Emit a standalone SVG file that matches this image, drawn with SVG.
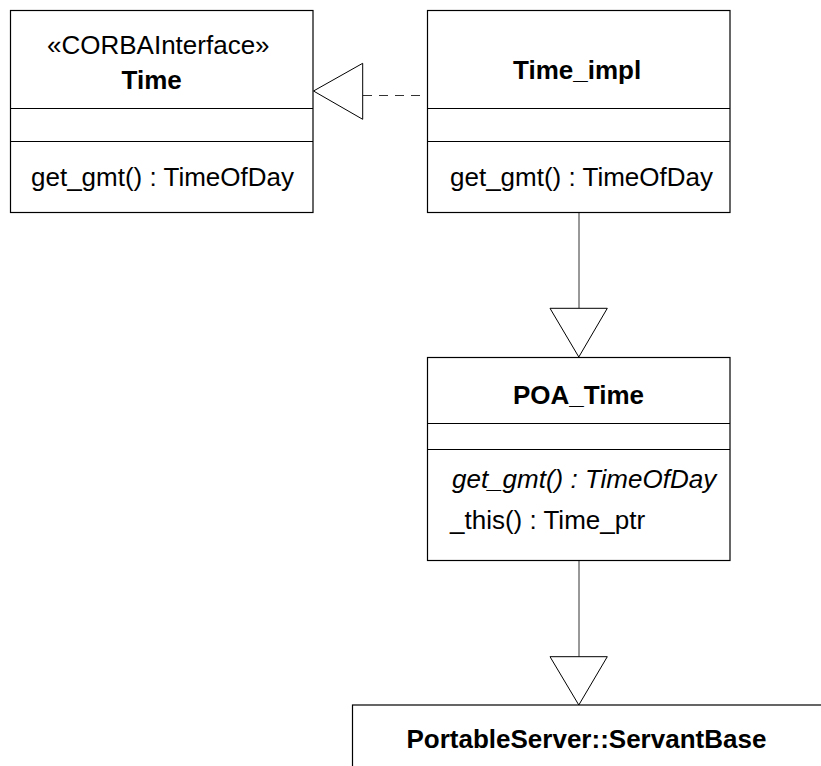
<svg xmlns="http://www.w3.org/2000/svg" width="821" height="766" viewBox="0 0 821 766">
<style>
.box{fill:#fff;stroke:#000;stroke-width:1.2}
.div{stroke:#000;stroke-width:1}
text{font-family:"Liberation Sans",Arial,Helvetica,sans-serif;font-size:26px;fill:#000}
.b{font-weight:bold}
.i{font-style:italic}
.ln{stroke:#333;stroke-width:1;fill:none}
.tri{fill:#fff;stroke:#000;stroke-width:1}
</style>
<rect width="821" height="766" fill="#fff"/>
<g id="connectors">
<line class="ln" x1="363" y1="95.5" x2="427" y2="95.5" stroke-dasharray="9,7"/>
<polygon class="tri" points="313.5,91 362.7,63.3 362.7,119.3"/>
<line class="ln" x1="579" y1="212.5" x2="579" y2="308.3"/>
<polygon class="tri" points="550,308.3 607.3,308.3 578.8,357"/>
<line class="ln" x1="579" y1="560.5" x2="579" y2="656.7"/>
<polygon class="tri" points="550,656.7 607.3,656.7 578.8,705"/>
</g>
<g id="Time">
<rect class="box" x="10.5" y="10.5" width="302.5" height="202"/>
<line class="div" x1="10.5" y1="108.5" x2="313" y2="108.5"/>
<line class="div" x1="10.5" y1="141.5" x2="313" y2="141.5"/>
<text x="47" y="54">«CORBAInterface»</text>
<text class="b" x="121.5" y="89">Time</text>
<text x="31" y="185.5">get_gmt() : TimeOfDay</text>
</g>
<g id="Time_impl">
<rect class="box" x="427.5" y="10.5" width="302.5" height="202"/>
<line class="div" x1="427.5" y1="108.5" x2="730" y2="108.5"/>
<line class="div" x1="427.5" y1="141.5" x2="730" y2="141.5"/>
<text class="b" x="513" y="78.5">Time_impl</text>
<text x="450" y="185.5">get_gmt() : TimeOfDay</text>
</g>
<g id="POA_Time">
<rect class="box" x="427.5" y="357.5" width="302.5" height="203"/>
<line class="div" x1="427.5" y1="423.5" x2="730" y2="423.5"/>
<line class="div" x1="427.5" y1="449.5" x2="730" y2="449.5"/>
<text class="b" x="513" y="404">POA_Time</text>
<text class="i" x="452" y="488">get_gmt() : TimeOfDay</text>
<text x="450" y="528.5">_this() : Time_ptr</text>
</g>
<g id="ServantBase">
<rect class="box" x="352.5" y="705" width="520" height="120"/>
<text class="b" x="406.5" y="748">PortableServer::ServantBase</text>
</g>
</svg>
